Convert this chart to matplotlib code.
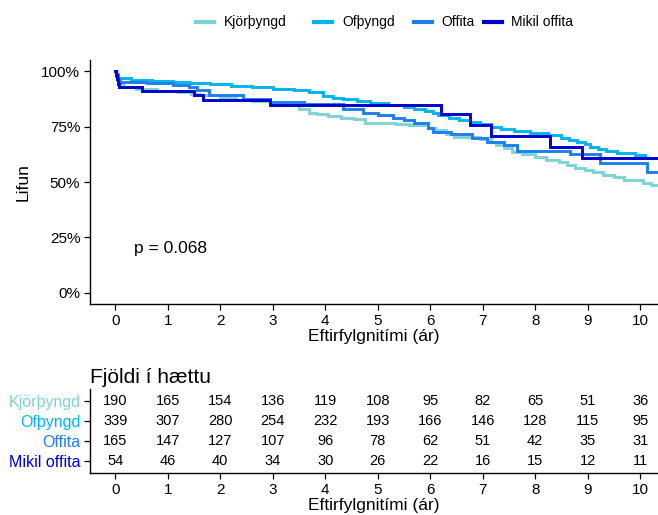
import matplotlib
matplotlib.use("Agg")
import matplotlib.pyplot as plt
from matplotlib.lines import Line2D
import numpy as np

plt.rcParams['font.family'] = ['Liberation Sans', 'DejaVu Sans']

groups = ["Kjörþyngd", "Ofþyngd", "Offita", "Mikil offita"]
colors = ["#7DD3D6", "#00B4F0", "#1E7FE8", "#0000CD"]

# Kaplan-Meier step curves (time in years, survival after the step)
t_kjor = [0, 0.03, 0.08, 0.15, 0.4, 0.8, 1.2, 1.45, 1.6, 2.0, 2.3, 2.6, 2.95, 3.3, 3.5, 3.7, 3.85, 4.05,
          4.3, 4.55, 4.75, 5.35, 5.6, 5.95, 6.1, 6.3, 6.45, 6.95, 7.15, 7.25, 7.4, 7.55, 7.75, 8.0,
          8.2, 8.45, 8.6, 8.75, 8.95, 9.1, 9.3, 9.5, 9.7, 10.05, 10.2, 10.5]
s_kjor = [1.0, 0.965, 0.945, 0.928, 0.92, 0.912, 0.905, 0.898, 0.89, 0.88, 0.87, 0.865, 0.855, 0.848,
          0.827, 0.812, 0.805, 0.797, 0.787, 0.782, 0.768, 0.76, 0.755, 0.745, 0.734, 0.715, 0.704,
          0.695, 0.68, 0.665, 0.652, 0.637, 0.625, 0.614, 0.60, 0.59, 0.577, 0.565, 0.554, 0.543,
          0.532, 0.522, 0.51, 0.495, 0.487, 0.487]

t_ofth = [0, 0.02, 0.06, 0.3, 0.7, 1.1, 1.4, 1.8, 2.2, 2.6, 3.0, 3.4, 3.7, 3.96, 4.15, 4.33, 4.6,
          4.85, 5.2, 5.5, 5.7, 5.9, 6.05, 6.15, 6.35, 6.55, 6.75, 6.95, 7.15, 7.35, 7.6, 7.9, 8.25,
          8.5, 8.65, 8.8, 8.95, 9.05, 9.2, 9.35, 9.55, 9.9, 10.1, 10.5]
s_ofth = [1.0, 0.985, 0.968, 0.962, 0.957, 0.952, 0.946, 0.94, 0.934, 0.927, 0.92, 0.914, 0.905,
          0.887, 0.88, 0.872, 0.864, 0.855, 0.848, 0.84, 0.83, 0.82, 0.81, 0.80, 0.79, 0.78, 0.77,
          0.76, 0.75, 0.74, 0.73, 0.72, 0.71, 0.70, 0.69, 0.68, 0.67, 0.659, 0.65, 0.64, 0.63,
          0.62, 0.61, 0.61]

t_offi = [0, 0.02, 0.05, 0.1, 0.6, 1.1, 1.41, 1.55, 1.79, 2.43, 2.94, 3.6, 4.33, 4.72, 5.0, 5.3,
          5.5, 5.7, 5.95, 6.05, 6.4, 6.8, 7.08, 7.4, 7.65, 8.66, 9.24, 10.13, 10.5]
s_offi = [1.0, 0.98, 0.962, 0.952, 0.945, 0.937, 0.93, 0.917, 0.893, 0.872, 0.86, 0.852, 0.827,
          0.812, 0.80, 0.79, 0.78, 0.765, 0.745, 0.727, 0.715, 0.70, 0.68, 0.665, 0.64, 0.625,
          0.585, 0.546, 0.546]

t_mikil = [0, 0.02, 0.04, 0.06, 0.08, 0.52, 1.51, 1.67, 2.94, 6.2, 6.76, 7.15, 8.28, 8.89, 10.5]
s_mikil = [1.0, 0.981, 0.963, 0.944, 0.929, 0.912, 0.89, 0.868, 0.845, 0.806, 0.757, 0.707,
           0.656, 0.607, 0.607]

times = [t_kjor, t_ofth, t_offi, t_mikil]
survs = [s_kjor, s_ofth, s_offi, s_mikil]

risk_times = [0, 1, 2, 3, 4, 5, 6, 7, 8, 9, 10]
risk_kjor = [190, 165, 154, 136, 119, 108, 95, 82, 65, 51, 36]
risk_ofth = [339, 307, 280, 254, 232, 193, 166, 146, 128, 115, 95]
risk_offi = [165, 147, 127, 107, 96, 78, 62, 51, 42, 35, 31]
risk_mikil = [54, 46, 40, 34, 30, 26, 22, 16, 15, 12, 11]
risk = [risk_kjor, risk_ofth, risk_offi, risk_mikil]

p_text = "p = 0.068"
xlabel = "Eftirfylgnitími (ár)"

W, H = 658, 515
fig = plt.figure(figsize=(W / 100, H / 100), dpi=100)

def fx(px):
    return px / W

def fy(py):
    return 1 - py / H

xlim = (-0.48, 10.34)

# main axes
ax = fig.add_axes([fx(90), fy(304), fx(658) - fx(90), fy(60) - fy(304)])
for t, s, c, g in zip(times, survs, colors, groups):
    ax.step(t, s, where='post', color=c, lw=2.1, label=g, solid_joinstyle='miter')
ax.set_xlim(*xlim)
ax.set_ylim(-0.05, 1.05)
ax.set_xticks(risk_times)
ax.set_yticks([0, 0.25, 0.5, 0.75, 1.0])
ax.set_yticklabels(["0%", "25%", "50%", "75%", "100%"])
for sp in ['top', 'right']:
    ax.spines[sp].set_visible(False)
for sp in ['left', 'bottom']:
    ax.spines[sp].set_linewidth(1.0)
ax.tick_params(labelsize=11, length=4, width=0.9, colors='black', pad=3)
ax.set_xlabel(xlabel, fontsize=12.5, labelpad=1)
ax.set_ylabel("Lifun", fontsize=12.5, labelpad=8)
ax.text(0.35, 0.2, p_text, fontsize=12.5, va='center', ha='left')

# legend (manual layout like ggplot's horizontal legend)
leg_handle_x = [196, 314, 414, 484]
leg_text_x = [224, 342, 441, 511]
for hx, tx, c, g in zip(leg_handle_x, leg_text_x, colors, groups):
    fig.add_artist(Line2D([fx(hx), fx(hx + 18)], [fy(22), fy(22)], color=c, lw=3,
                          transform=fig.transFigure))
    fig.text(fx(tx), fy(22), g, fontsize=10, va='center', ha='left')

# risk table
ax2 = fig.add_axes([fx(90), fy(473), fx(658) - fx(90), fy(389) - fy(473)])
rows = [4, 3, 2, 1]
for r, n in zip(rows, risk):
    for t, v in zip(risk_times, n):
        ax2.text(t, r, str(v), ha='center', va='center', fontsize=10.5)
ax2.set_xlim(*xlim)
ax2.set_ylim(0.4, 4.6)
ax2.set_xticks(risk_times)
ax2.set_yticks(rows)
ax2.set_yticklabels(groups)
for lab, c in zip(ax2.get_yticklabels(), colors):
    lab.set_color(c)
for sp in ['top', 'right']:
    ax2.spines[sp].set_visible(False)
for sp in ['left', 'bottom']:
    ax2.spines[sp].set_linewidth(1.0)
ax2.tick_params(axis='x', labelsize=11, length=4, width=0.9, pad=3)
ax2.tick_params(axis='y', labelsize=11.5, length=4, width=0.9, pad=3)
ax2.set_xlabel(xlabel, fontsize=12.5, labelpad=1)
ax2.set_title("Fjöldi í hættu", fontsize=15, loc='left', pad=4, x=0.0)

fig.savefig("out.png", dpi=100)
